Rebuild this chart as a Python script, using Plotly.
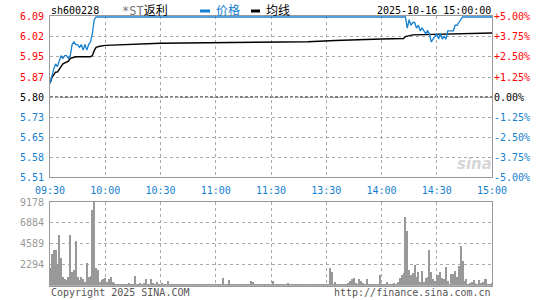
import plotly.graph_objects as go

# ---------------- data ----------------
prev_close = 5.80
stock_code = "sh600228"
stock_name = "*ST返利"
date_text = "2025-10-16 15:00:00"

time_labels = ["09:30", "10:00", "10:30", "11:00", "11:30", "13:30", "14:00", "14:30", "15:00"]

price_times = ["09:30", "09:31", "09:32", "09:33", "09:34", "09:35", "09:36", "09:37", "09:38", "09:39",
               "09:40", "09:41", "09:42", "09:43", "09:44", "09:45", "09:46", "09:47", "09:48", "09:49",
               "09:50", "09:51", "09:52", "09:53", "09:54", "09:55", "14:13", "14:14", "14:15", "14:16",
               "14:17", "14:18", "14:19", "14:20", "14:21", "14:22", "14:23", "14:24", "14:25", "14:26",
               "14:27", "14:28", "14:29", "14:30", "14:31", "14:32", "14:33", "14:34", "14:35", "14:36",
               "14:37", "14:38", "14:39", "14:40", "14:41", "14:42", "14:43", "14:44", "15:00"]
price_values = [5.85, 5.88, 5.90, 5.92, 5.91, 5.93, 5.95, 5.94, 5.95, 5.95,
                5.94, 5.95, 5.99, 6.00, 5.99, 5.99, 5.98, 5.99, 5.97, 5.99,
                5.97, 5.99, 6.00, 6.03, 6.08, 6.09, 6.09, 6.05, 6.08, 6.06,
                6.07, 6.07, 6.05, 6.06, 6.04, 6.05, 6.04, 6.03, 6.04, 6.03,
                6.00, 6.01, 6.02, 6.03, 6.01, 6.03, 6.01, 6.02, 6.01, 6.04,
                6.04, 6.04, 6.04, 6.06, 6.06, 6.07, 6.08, 6.09, 6.09]

avg_times = ["09:30", "09:31", "09:32", "09:33", "09:34", "09:35", "09:36", "09:37", "09:40", "09:41",
             "09:43", "09:44", "09:52", "09:53", "09:54", "09:55", "09:57", "10:00", "10:30", "11:10",
             "13:00", "13:20", "13:35", "13:45", "14:00", "14:12", "14:13", "14:17", "14:33", "14:45", "15:00"]
avg_values = [5.85, 5.87, 5.88, 5.89, 5.89, 5.90, 5.91, 5.92, 5.93, 5.94,
              5.944, 5.946, 5.946, 5.950, 5.968, 5.980, 5.984, 5.987, 5.995, 5.998,
              5.998, 6.000, 6.005, 6.008, 6.010, 6.012, 6.019, 6.025, 6.027, 6.031, 6.032]

volumes = [1940, 3480, 3950, 3950, 2380, 5600, 3040, 950, 735, 660,
           950, 5600, 1500, 1755, 4870, 950, 660, 950, 735, 370,
           2490, 950, 1060, 8340, 9178, 1900, 1720, 440, 625, 700,
           810, 440, 770, 920, 440, 300, 180, 220, 150, 200,
           150, 200, 180, 250, 150, 200, 1060, 200, 150, 300,
           200, 250, 700, 200, 150, 700, 250, 200, 450, 200,
           200, 250, 150, 200, 550, 200, 150, 200, 180, 150,
           200, 150, 200, 180, 150, 200, 120, 150, 200, 150,
           200, 150, 180, 150, 200, 180, 150, 200, 150, 200,
           150, 200, 180, 150, 880, 150, 200, 660, 150, 200,
           150, 200, 150, 180, 150, 200, 150, 180, 200, 550,
           440, 200, 150, 200, 150, 180, 150, 200, 150, 200,
           150, 550, 200, 150, 200, 150, 180, 200, 150, 300,
           200, 180, 200, 150, 200, 150, 200, 150, 180, 200,
           150, 200, 150, 180, 150, 200, 150, 100, 150, 100,
           100, 100, 1975, 1540, 200, 370, 100, 150, 100, 200,
           150, 200, 300, 550, 700, 880, 300, 150, 770, 550,
           250, 150, 770, 150, 200, 150, 150, 200, 150, 1170,
           150, 150, 150, 370, 150, 100, 150, 300, 220, 400,
           845, 1140, 1390, 7540, 6040, 1760, 1140, 1390, 2300, 950,
           1500, 400, 1650, 370, 845, 990, 3950, 1500, 770, 550,
           1140, 1140, 1500, 845, 740, 2050, 550, 150, 1280, 1280,
           1580, 990, 2130, 4320, 2740, 550, 740, 220, 300, 370,
           640, 300, 220, 640, 300, 450, 740, 740, 200, 150,
           300]

price_tick_vals = [5.51, 5.5825, 5.655, 5.7275, 5.80, 5.8725, 5.945, 6.0175, 6.09]
price_tick_text = ["5.51", "5.58", "5.65", "5.73", "5.80", "5.87", "5.95", "6.02", "6.09"]
pct_tick_vals = [-5, -3.75, -2.5, -1.25, 0, 1.25, 2.5, 3.75, 5]
pct_tick_text = ["-5.00%", "-3.75%", "-2.50%", "-1.25%", "0.00%", "+1.25%", "+2.50%", "+3.75%", "+5.00%"]
vol_max = 9178
vol_tick_vals = [2294.5, 4589, 6883.5, 9178]
vol_tick_text = ["2294", "4589", "6884", "9178"]

# ---------------- helpers ----------------
def tmin(t):
    h, m = map(int, t.split(":"))
    mins = h * 60 + m
    if mins <= 11 * 60 + 30:
        return mins - (9 * 60 + 30)
    return mins - 13 * 60 + 120

W, H = 545, 300
def px(x):
    return x / W
def py(y):
    return 1 - y / H

BLUE = "#1580d0"
RED = "#ff0000"
GRID = "#aaaaaa"
FRAME = "#999999"
MONO = "DejaVu Sans Mono, Noto Sans CJK SC, monospace"

def color_ticks(texts, ref_index):
    out = []
    for i, t in enumerate(texts):
        if i > ref_index:
            c = RED
        elif i == ref_index:
            c = "#000000"
        else:
            c = BLUE
        out.append('<span style="color:%s">%s</span>' % (c, t))
    return out

# price axis top padded by ~1px so the limit-up line stays visible over the frame
p_lo, p_hi = 5.51, 6.0936
pct_lo = (p_lo / prev_close - 1) * 100
pct_hi = (p_hi / prev_close - 1) * 100

# ---------------- figure ----------------
fig = go.Figure()

fig.add_trace(go.Scatter(x=[tmin(t) for t in avg_times], y=avg_values, mode="lines",
                         line=dict(color="#000000", width=1.4), xaxis="x", yaxis="y",
                         hoverinfo="skip", showlegend=False))
fig.add_trace(go.Scatter(x=[tmin(t) for t in price_times], y=price_values, mode="lines",
                         line=dict(color=BLUE, width=1.3), xaxis="x", yaxis="y",
                         hoverinfo="skip", showlegend=False))
# empty trace so the percent axis is drawn
fig.add_trace(go.Scatter(x=[], y=[], xaxis="x", yaxis="y2", mode="lines",
                         hoverinfo="skip", showlegend=False))
fig.add_trace(go.Bar(x=list(range(len(volumes))), y=volumes, width=0.55,
                     marker=dict(color="#999999", line=dict(width=0)),
                     xaxis="x2", yaxis="y3", hoverinfo="skip", showlegend=False))

xdom = [px(50), px(492)]
tick_x = [tmin(t) for t in time_labels]
tick_x[4] = tmin("11:30")

common_x = dict(domain=xdom, range=[0, 240], tickmode="array", tickvals=tick_x,
                showgrid=True, gridcolor=GRID, griddash="dot", gridwidth=1,
                showline=True, linecolor=FRAME, linewidth=1, mirror=True,
                zeroline=False, ticks="", fixedrange=True, automargin=False,
                layer="below traces")

fig.update_layout(
    width=W, height=H, margin=dict(l=0, r=0, t=0, b=0),
    paper_bgcolor="white", plot_bgcolor="white",
    bargap=0, showlegend=False,
    font=dict(family=MONO, size=10),
    xaxis=dict(**common_x, anchor="y", ticktext=time_labels,
               tickfont=dict(color=BLUE, size=10, family=MONO), ticklabelstandoff=4),
    xaxis2=dict(**common_x, anchor="y3", showticklabels=False),
    yaxis=dict(domain=[py(177), py(16)], range=[p_lo, p_hi], anchor="x",
               tickmode="array", tickvals=price_tick_vals,
               ticktext=color_ticks(price_tick_text, 4),
               tickfont=dict(size=10, family=MONO),
               showgrid=True, gridcolor=GRID, griddash="dot",
               showline=True, linecolor=FRAME, mirror=True, zeroline=False,
               ticks="", ticklabelstandoff=3, fixedrange=True, automargin=False,
               layer="below traces"),
    yaxis2=dict(overlaying="y", side="right", anchor="x", range=[pct_lo, pct_hi],
                tickmode="array", tickvals=pct_tick_vals,
                ticktext=color_ticks(pct_tick_text, 4),
                tickfont=dict(size=10, family=MONO),
                showgrid=False, showline=False, zeroline=False,
                ticks="", ticklabelstandoff=1, fixedrange=True, automargin=False),
    yaxis3=dict(domain=[py(285.7), py(202)], range=[0, vol_max], anchor="x2",
                tickmode="array", tickvals=vol_tick_vals, ticktext=vol_tick_text,
                tickfont=dict(size=10, family=MONO, color="#999999"),
                showgrid=True, gridcolor=GRID, griddash="dot",
                showline=True, linecolor=FRAME, mirror=True, zeroline=False,
                ticks="", ticklabelstandoff=3, fixedrange=True, automargin=False),
)

# previous close reference line
fig.add_shape(type="line", xref="x", yref="y", x0=0, x1=240, y0=prev_close, y1=prev_close,
              line=dict(color="#000000", width=1, dash="3px,2px"), layer="below")

# legend dashes
fig.add_shape(type="line", xref="paper", yref="paper", x0=px(200), x1=px(210), y0=py(11), y1=py(11),
              line=dict(color=BLUE, width=3))
fig.add_shape(type="line", xref="paper", yref="paper", x0=px(251), x1=px(260), y0=py(11), y1=py(11),
              line=dict(color="#000000", width=3))

def ann(text, x, y, xanchor="left", size=10, color="#000000", family=MONO):
    fig.add_annotation(text=text, x=px(x), y=py(y), xref="paper", yref="paper",
                       xanchor=xanchor, yanchor="middle", showarrow=False,
                       font=dict(size=size, color=color, family=family))

ann(stock_code, 49, 11)
ann('<span style="color:#777777">*ST</span>' + stock_name[3:], 120, 11, size=12)
ann("价格", 214, 11, size=12, color=BLUE)
ann("均线", 264, 11, size=12)
ann(date_text, 493, 11, xanchor="right")
ann("Copyright 2025 SINA.COM", 49, 292, color="#555555")
ann("http://finance.sina.com.cn", 493, 292, xanchor="right", color="#555555")
ann("<b><i>sina</i></b>", 474, 164, xanchor="center", size=15, color="rgba(160,160,160,0.45)",
    family="DejaVu Sans, sans-serif")

fig.write_html("out.html")
